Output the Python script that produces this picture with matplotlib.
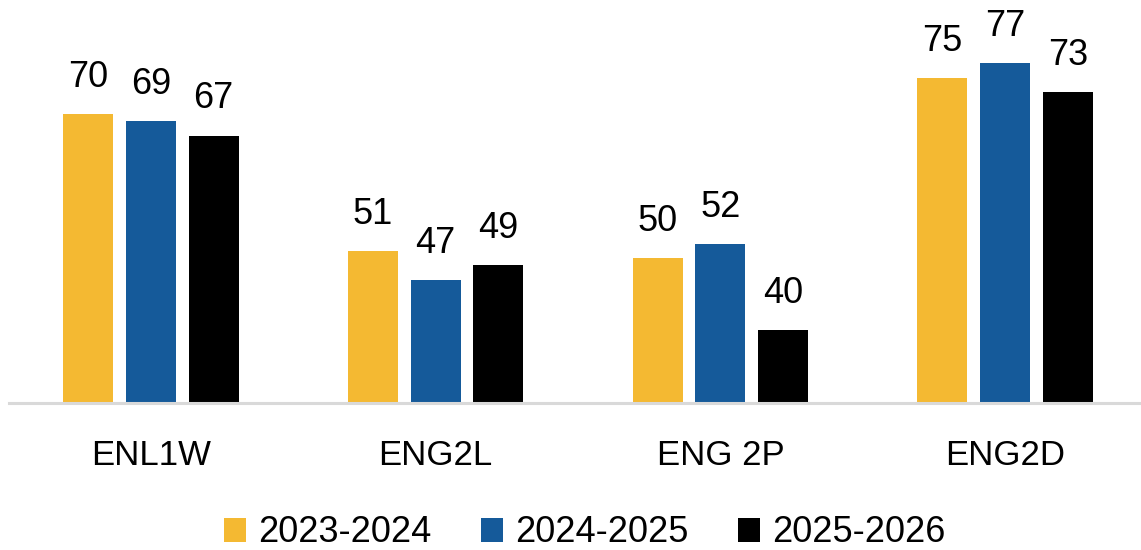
import matplotlib
matplotlib.use("Agg")
import matplotlib.pyplot as plt
from matplotlib.patches import Patch
import numpy as np

categories = ["ENL1W", "ENG2L", "ENG 2P", "ENG2D"]
series_names = ["2023-2024", "2024-2025", "2025-2026"]
values_2023 = [70, 51, 50, 75]
values_2024 = [69, 47, 52, 77]
values_2025 = [67, 49, 40, 73]
colors = ["#F4B932", "#155A9A", "#000000"]

plt.rcParams['font.family'] = ['Liberation Sans', 'DejaVu Sans']

W, H = 1141, 550
fig = plt.figure(figsize=(W / 100, H / 100), dpi=100)
ax = fig.add_axes([8.7 / W, (H - 402.5) / H, 1138.7 / W, 402.5 / H])

x = np.arange(len(categories))
pitch = 0.22
width = 0.1756
all_vals = [values_2023, values_2024, values_2025]
for i, (vals, col) in enumerate(zip(all_vals, colors)):
    pos = x + (i - 1) * pitch
    bars = ax.bar(pos, vals, width=width, color=col, bottom=0, zorder=2)
    for b, v in zip(bars, vals):
        ax.annotate(f"{v}", (b.get_x() + b.get_width() / 2, v),
                    xytext=(0, 19.5), textcoords="offset points",
                    ha="center", va="baseline", fontsize=26, color="#000000")

ax.set_xlim(-0.5, 3.5)
ax.set_ylim(30, 30 + 402.5 / 7.216)
ax.set_yticks([])
ax.set_xticks(x)
ax.set_xticklabels(categories, fontsize=25, color="#000000")
ax.tick_params(axis="x", length=0, pad=26)
for s in ["top", "left", "right"]:
    ax.spines[s].set_visible(False)
ax.spines["bottom"].set_color("#D9D9D9")
ax.spines["bottom"].set_linewidth(2.2)
ax.spines["bottom"].set_zorder(3)

handles = [Patch(facecolor=c, edgecolor="none") for c in colors]
leg = fig.legend(handles, series_names, loc="center", ncol=3,
                 bbox_to_anchor=(584.5 / W, 1 - 533 / H),
                 fontsize=26, frameon=False, handlelength=0.61,
                 handleheight=0.64, handletextpad=0.33, columnspacing=1.38,
                 borderaxespad=0, borderpad=0)

fig.savefig("out.png", dpi=100)
